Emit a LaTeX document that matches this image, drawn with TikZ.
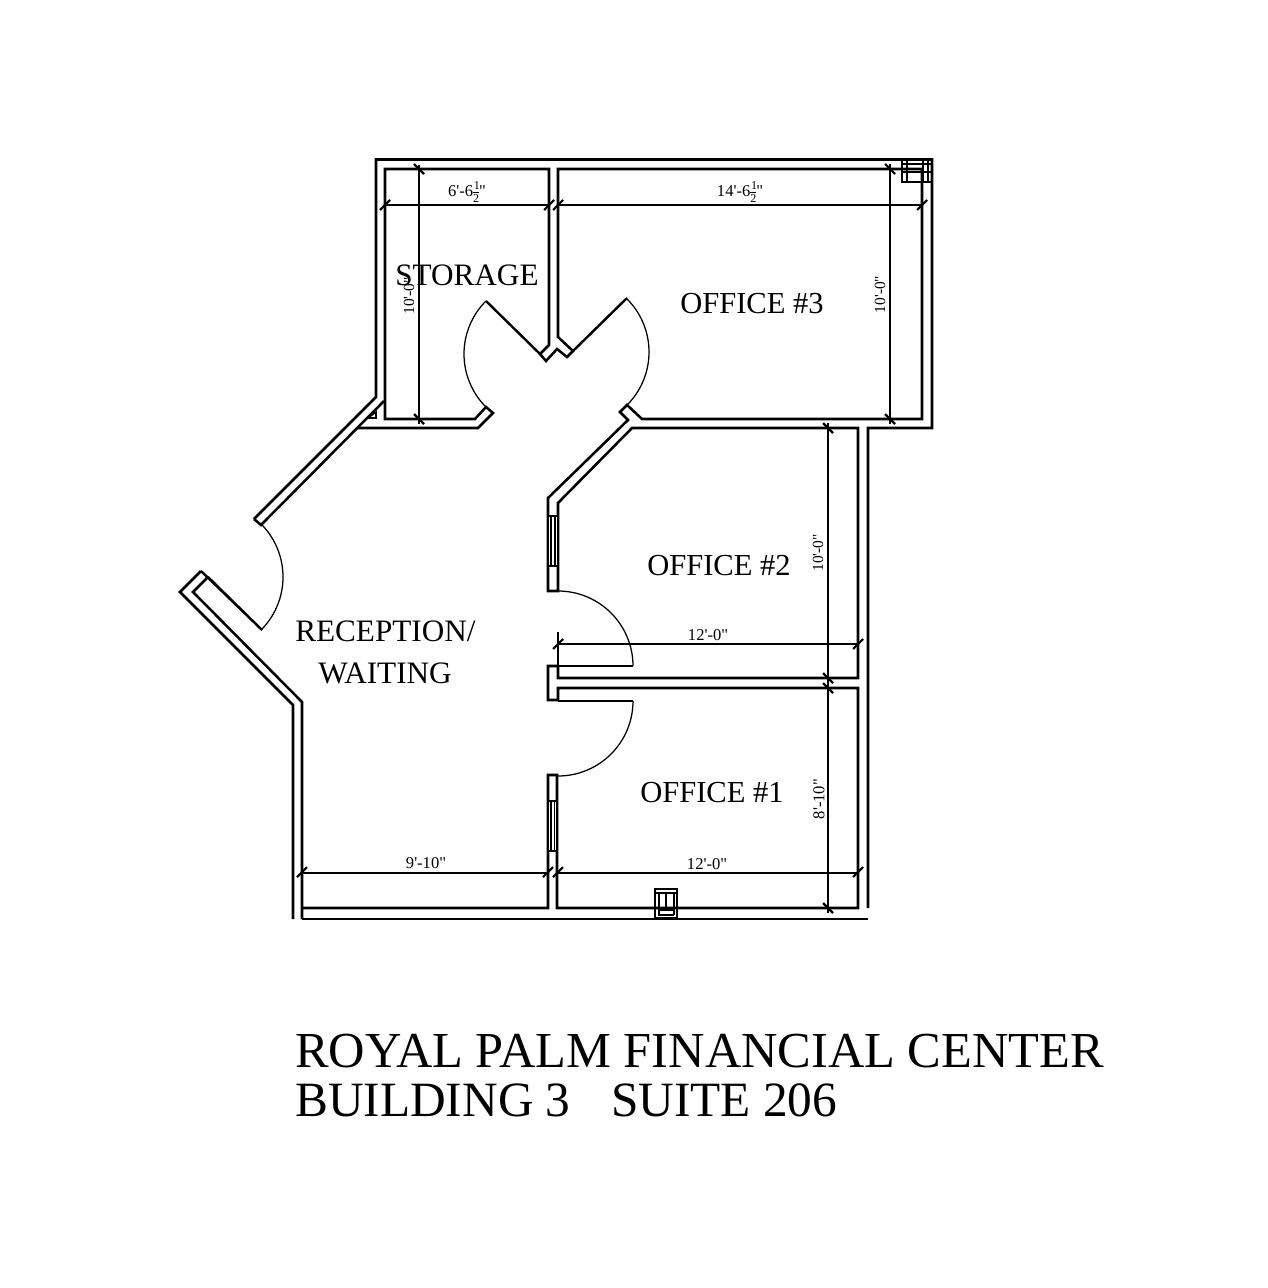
\documentclass[tikz,border=0pt]{standalone}
\usepackage{fontspec}
\newfontfamily\planfont{Liberation Serif}
\newcommand{\halfsym}{{\fontsize{9}{9}\selectfont\rlap{\raisebox{5.2pt}{\kern0.6pt 1}}\rlap{\raisebox{3.2pt}{\rule{4.5pt}{0.4pt}}}\raisebox{-4pt}{2}}}
\tikzset{
  wall/.style={line width=1.9pt,line join=miter,black},
  thinline/.style={line width=0.95pt,black},
  detail/.style={line width=1.5pt,black},
  doorleaf/.style={line width=1.8pt,black},
  tick/.style={line width=1.6pt,black},
  dimtext/.style={font=\planfont\fontsize{12.4}{13}\selectfont,inner sep=0pt,black},
  dimtextsmall/.style={font=\planfont\fontsize{11.6}{13}\selectfont,inner sep=0pt,black},
  roomtext/.style={font=\planfont\fontsize{22.9}{26}\selectfont,inner sep=0pt,anchor=base west,black},
  recepttext/.style={font=\planfont\fontsize{23.4}{26}\selectfont,inner sep=0pt,anchor=base west,black},
  titletext/.style={font=\planfont\fontsize{37.8}{42}\selectfont,inner sep=0pt,anchor=base west,black},
  subtitletext/.style={font=\planfont\fontsize{37}{42}\selectfont,inner sep=0pt,anchor=base west,black}
}
\newcommand{\doorarc}[4]{\draw[thinline] plot[domain=#3:#4,samples=48] ({#1+75*cos(\x)},{#2+75*sin(\x)});}
\begin{document}
\begin{tikzpicture}[x=0.75pt,y=-0.75pt]
\path[fill=white] (0,0) rectangle (1267,1288);
\useasboundingbox (0,0) rectangle (1267,1288);
% outer shell, top and right
\draw[wall] (254,519) -- (376,397) -- (376,159.5) -- (932,159.5) -- (932,428) -- (868,428) -- (868,908);
\draw[wall] (254,519) -- (261,525) -- (384,401);
\draw[thinline,line width=1.2pt] (376,412) -- (376,418) -- (368,418) -- cycle;
% inner wall run
\draw[wall] (357,428) -- (478,428) -- (493,413) -- (486,407) -- (475,419) -- (385,419) -- (385,169) -- (549,169) -- (549,345) -- (540,354) -- (546,361) -- (557,349) -- (567,357) -- (573,351) -- (558,337) -- (558,169) -- (922,169) -- (922,419) -- (642,419) -- (627,405) -- (620,412) -- (628,420) -- (548,498) -- (548,591) -- (558,591) -- (558,503) -- (632,428) -- (858,428) -- (858,678) -- (558,678) -- (558,666) -- (548,666) -- (548,700) -- (558,700) -- (558,688) -- (858,688) -- (858,908) -- (557,908) -- (557,775) -- (548,775) -- (548,908) -- (302,908);
% lower-left walls
\draw[wall] (293,919) -- (293,705) -- (180,592) -- (201,571);
\draw[wall] (302,919) -- (302,702) -- (193,592) -- (208,577);
\draw[wall] (302,919) -- (868,919);
% windows
\fill[white] (549.2,517) rectangle (556.8,565);
\fill[white] (549.2,802) rectangle (555.8,850);
\draw[thinline] (548,516) -- (548,566) (558,516) -- (558,566) (551,516) -- (551,566) (555,516) -- (555,566);
\draw[thinline] (548,516) -- (558,516) (548,566) -- (558,566);
\draw[thinline] (548,801) -- (548,851) (557,801) -- (557,851) (551,801) -- (551,851) (554.5,801) -- (554.5,851);
\draw[thinline] (548,801) -- (557,801) (548,851) -- (557,851);
% door leaves
\draw[doorleaf] (201,571) -- (262,630) (208,577) -- (262,630);
\draw[doorleaf] (540,354) -- (486,301);
\draw[doorleaf] (573,351) -- (627,298);
\draw[doorleaf] (558,666) -- (633,666);
\draw[doorleaf] (558,701) -- (633,701);
% door swings
\doorarc{208}{577}{-45}{45}
\doorarc{539}{354}{135}{225}
\doorarc{574}{352}{-45}{45}
\doorarc{558}{666}{-90}{0}
\doorarc{558}{701}{0}{90}
% top-right column
\draw[wall,line width=2.2pt] (902,160) rectangle (932,182);
\draw[detail] (907,160) -- (907,182) (923,160) -- (923,182) (928,160) -- (928,182) (902,163.5) -- (932,163.5) (902,172) -- (932,172);
% bottom-wall column
\draw[wall,line width=2.2pt] (655,889) rectangle (677,918);
\draw[detail] (655,892.5) -- (677,892.5) (666,893) -- (666,910) (658.5,893) -- (658.5,915) (673.5,893) -- (673.5,915) (658,910) -- (674,910) (658,915) -- (674,915);
% dimension lines
\draw[thinline] (385,205) -- (549,205);
\draw[thinline] (558,205) -- (922,205);
\draw[thinline] (419,165) -- (419,424);
\draw[thinline] (890,164) -- (890,424);
\draw[thinline] (828,423) -- (828,913);
\draw[thinline] (558,632) -- (558,666);
\draw[thinline] (558,644) -- (858,644);
\draw[thinline] (302,873) -- (548,873);
\draw[thinline] (557,873) -- (858,873);
\foreach \x/\y in {385/205,549/205,558/205,922/205,558/644,858/644,302/872,548/872,558/872,858/872}
  \draw[tick] (\x,\y) +(-5,5) -- +(5,-5);
\foreach \x/\y in {419/169,419/419,890/169,890/419,828/428,828/678,828/688,828/908}
  \draw[tick] (\x,\y) +(-5,-5) -- +(5,5);
% dimension labels
\node[dimtext] (d1) at (467,192) {6'-6\halfsym"};
\node[dimtext] (d2) at (740,192) {14'-6\halfsym"};
\node[dimtextsmall,rotate=90] (d3) at (409,296) {10'-0"};
\node[dimtextsmall,rotate=90] (d4) at (880,294.5) {10'-0"};
\node[dimtextsmall,rotate=90] (d5) at (818,553) {10'-0"};
\node[dimtext,rotate=90] (d6) at (819,799) {8'-10"};
\node[dimtext] (d7) at (708,635) {12'-0"};
\node[dimtext] (d8) at (707,864) {12'-0"};
\node[dimtext] (d9) at (426,863) {9'-10"};
% room labels
\node[recepttext] (storage) at (395,285) {STORAGE};
\node[roomtext] (off3) at (680,313) {OFFICE \#3};
\node[roomtext] (off2) at (647,575) {OFFICE \#2};
\node[roomtext] (off1) at (640,802) {OFFICE \#1};
\node[recepttext] (rec) at (295,641) {RECEPTION/};
\node[recepttext] (wait) at (318,683) {WAITING};
% title
\node[titletext] (t1) at (295,1067) {ROYAL PALM FINANCIAL CENTER};
\node[subtitletext] (t2) at (295,1116) {BUILDING 3\hspace{0.82em}SUITE 206};
\end{tikzpicture}
\end{document}
